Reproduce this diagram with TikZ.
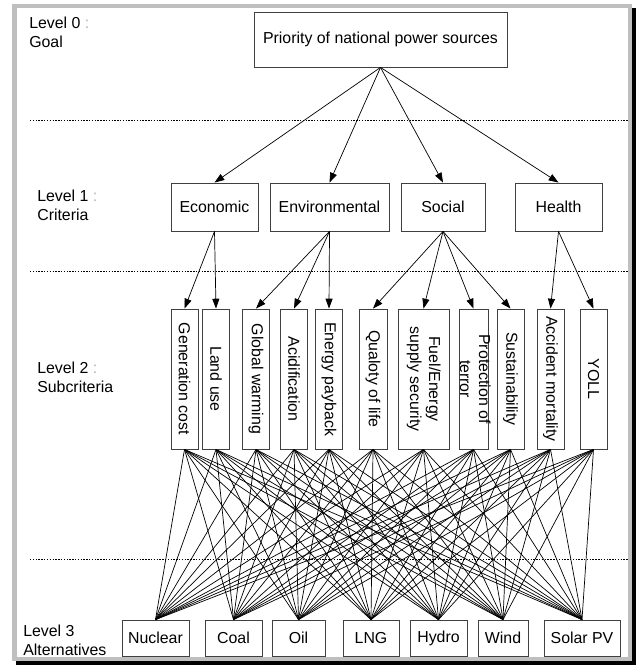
\documentclass[tikz,border=0pt]{standalone}
\usepackage{fontspec}
\setmainfont{Liberation Sans}
\usepackage{graphicx}
\usetikzlibrary{arrows.meta}

\begin{document}
\begin{tikzpicture}[x=0.025cm,y=-0.025cm,font=\fontsize{11.3}{13.5}\selectfont,
  >={Triangle[length=7pt,width=5pt]},
  box/.style={draw=black!75,line width=0.6pt,fill=white,inner sep=0pt,align=center},
  critbox/.style={box,minimum height=1.2cm},
  subbox/.style={box,minimum height=3.5cm,minimum width=0.675cm},
  altbox/.style={box,minimum height=0.9cm},
  lvl/.style={anchor=west,align=left,inner sep=0pt},
  sep/.style={line width=0.6pt,dash pattern=on 1pt off 1pt},
  link/.style={line width=0.5pt}]
  \useasboundingbox (0,0) rectangle (637,668);
  % frame with shadow
  \fill[black] (16,8) rectangle (636,665);
  \draw[fill=white,draw=black!25,line width=0.1125cm] (14.25,6.25) rectangle (629.75,658.75);

  % level labels
  \node[lvl] (lv0) at (29,32) {Level 0 {\color{black!30}:}\\Goal};
  \node[lvl] (lv1) at (37,205) {Level 1 {\color{black!30}:}\\Criteria};
  \node[lvl] (lv2) at (37,377) {Level 2 {\color{black!30}:}\\Subcriteria};
  \node[lvl] (lv3) at (23,640) {Level 3\\Alternatives};

  % separators
  \draw[sep] (30,120) -- (628,120);
  \draw[sep] (30,271) -- (628,271);
  \draw[sep] (30,559) -- (628,559);

  % goal
  \node[box,minimum width=6.325cm,minimum height=1.375cm] (goal) at (380.5,39.5)
    {Priority of national power sources};

  % criteria
  \node[critbox,minimum width=2.175cm] (econ) at (214.5,207) {Economic};
  \node[critbox,minimum width=2.975cm] (envi) at (329.5,207) {Environmental};
  \node[critbox,minimum width=2.1cm] (soci) at (443,207) {Social};
  \node[critbox,minimum width=2.175cm] (heal) at (558.5,207) {Health};

  % subcriteria
  \node[subbox] (gen) at (184.5,379) {\rotatebox[origin=c]{-90}{Generation cost}};
  \node[subbox] (land) at (216,379) {\rotatebox[origin=c]{-90}{Land use}};
  \node[subbox] (gw) at (256,379) {\rotatebox[origin=c]{-90}{Global warming}};
  \node[subbox] (acid) at (294,379) {\rotatebox[origin=c]{-90}{Acidification}};
  \node[subbox] (epay) at (329,379) {\rotatebox[origin=c]{-90}{Energy payback}};
  \node[subbox,minimum width=0.7cm] (qol) at (373,379) {\rotatebox[origin=c]{-90}{Qualoty of life}};
  \node[subbox,minimum width=1.275cm] (fuel) at (423.5,379)
    {\rotatebox[origin=c]{-90}{\begin{tabular}{@{}c@{}}Fuel/Energy\\supply security\end{tabular}}};
  \node[subbox,minimum width=0.725cm] (prot) at (473.5,379)
    {\makebox[0.725cm]{\rotatebox[origin=c]{-90}{\begin{tabular}{@{}c@{}}Protection of\\terror\end{tabular}}}};
  \node[subbox] (sust) at (510.5,379) {\rotatebox[origin=c]{-90}{Sustainability}};
  \node[subbox] (acc) at (550.5,379) {\rotatebox[origin=c]{-90}{Accident mortality}};
  \node[subbox] (yoll) at (593.5,379) {\rotatebox[origin=c]{-90}{YOLL}};

  % alternatives
  \node[altbox,minimum width=1.675cm] (nucl) at (155.5,638) {Nuclear};
  \node[altbox,minimum width=1.425cm] (coal) at (233.5,638) {Coal};
  \node[altbox,minimum width=1.325cm] (oil) at (298.5,638) {Oil};
  \node[altbox,minimum width=1.4cm] (lng) at (371,638) {LNG};
  \node[altbox,minimum width=1.425cm] (hydr) at (438.5,638) {Hydro};
  \node[altbox,minimum width=1.25cm] (wind) at (503,638) {Wind};
  \node[altbox,minimum width=1.9cm] (solr) at (582,638) {Solar PV};

  % goal -> criteria
  \foreach \c in {econ,envi,soci,heal}
    \draw[->,link] (goal.south) -- (\c.north);

  % criteria -> subcriteria
  \foreach \s in {gen,land}
    \draw[->,link] (econ.south) -- (\s.north);
  \foreach \s in {gw,acid,epay}
    \draw[->,link] (envi.south) -- (\s.north);
  \foreach \s in {qol,fuel,prot,sust}
    \draw[->,link] (soci.south) -- (\s.north);
  \foreach \s in {acc,yoll}
    \draw[->,link] (heal.south) -- (\s.north);

  % subcriteria -> alternatives
  \foreach \s in {gen,land,gw,acid,epay,qol,fuel,prot,sust,acc,yoll}
    \foreach \a in {nucl,coal,oil,lng,hydr,wind,solr}
      \draw[link] (\s.south) -- (\a.north);
\end{tikzpicture}
\end{document}
